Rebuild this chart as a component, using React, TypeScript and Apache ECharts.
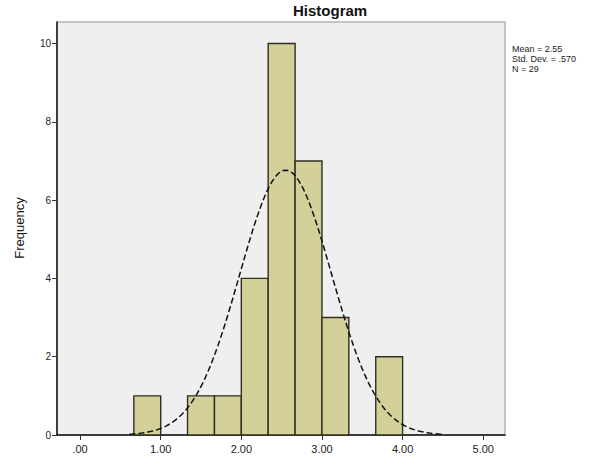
import React, { useEffect, useRef } from "react";
import * as echarts from "echarts";

const binStarts = [0.667, 1.333, 1.667, 2.0, 2.333, 2.667, 3.0, 3.667];
const binEnds = [1.0, 1.667, 2.0, 2.333, 2.667, 3.0, 3.333, 4.0];
const counts = [1, 1, 1, 4, 10, 7, 3, 2];
const xTicks = [0, 1, 2, 3, 4, 5];
const xTickLabels = [".00", "1.00", "2.00", "3.00", "4.00", "5.00"];
const yTicks = [0, 2, 4, 6, 8, 10];
const statMean = 2.55;
const statSd = 0.57;
const statN = 29;
const binWidth = 1 / 3;
const statLines = ["Mean = 2.55", "Std. Dev. = .570", "N = 29"];

export default function App() {
  const ref = useRef<HTMLDivElement>(null);
  useEffect(() => {
    if (!ref.current) return;
    const chart = echarts.init(ref.current, undefined, { renderer: "svg" });
    const histData = binStarts.map((s, i) => [s, binEnds[i], counts[i]]);
    const curve: number[][] = [];
    const lo = statMean - 3.4 * statSd;
    const hi = statMean + 3.4 * statSd;
    const steps = 120;
    for (let i = 0; i <= steps; i++) {
      const x = lo + ((hi - lo) * i) / steps;
      const z = (x - statMean) / statSd;
      const y = (statN * binWidth) / (statSd * Math.sqrt(2 * Math.PI)) * Math.exp(-0.5 * z * z);
      curve.push([x, y]);
    }
    chart.setOption({
      animation: false,
      backgroundColor: "#ffffff",
      grid: {
        left: 57,
        top: 22,
        right: 92,
        bottom: 31,
        show: true,
        backgroundColor: "#efefef",
        borderColor: "#b4b4b4",
        borderWidth: 1.5,
      },
      xAxis: {
        type: "value",
        min: -0.286,
        max: 5.27,
        splitLine: { show: false },
        axisLine: { show: true, onZero: false, lineStyle: { color: "#111", width: 1.5 } },
        axisTick: { show: true, length: 5, customValues: xTicks, lineStyle: { color: "#333" } },
        axisLabel: {
          customValues: xTicks,
          formatter: (v: number) => xTickLabels[xTicks.indexOf(Math.round(v))] ?? "",
          color: "#222",
          fontFamily: "Liberation Sans, Arial, sans-serif",
          fontSize: 11,
          margin: 8,
        },
      },
      yAxis: {
        type: "value",
        min: 0,
        max: 10.55,
        splitLine: { show: false },
        axisLine: { show: true, onZero: false, lineStyle: { color: "#111", width: 1.5 } },
        axisTick: { show: true, length: 5, customValues: yTicks, lineStyle: { color: "#333" } },
        axisLabel: {
          customValues: yTicks,
          color: "#222",
          fontFamily: "Liberation Sans, Arial, sans-serif",
          fontSize: 10,
          margin: 6,
        },
      },
      graphic: [
        {
          type: "text",
          left: 293,
          top: 3,
          style: {
            text: "Histogram",
            fill: "#111",
            font: "bold 15px 'Liberation Sans', Arial, sans-serif",
          },
        },
        {
          type: "text",
          x: 19,
          y: 228,
          rotation: Math.PI / 2,
          style: {
            text: "Frequency",
            fill: "#111",
            font: "13px 'Liberation Sans', Arial, sans-serif",
            textAlign: "center",
            textVerticalAlign: "middle",
          },
        },
        ...statLines.map((t, i) => ({
          type: "text",
          x: 512,
          y: 44 + i * 10,
          style: {
            text: t,
            fill: "#222",
            font: "9px 'Liberation Sans', Arial, sans-serif",
          },
        })),
      ],
      series: [
        {
          type: "custom",
          data: histData,
          encode: { x: [0, 1], y: 2 },
          renderItem: (params: any, api: any) => {
            const p0 = api.coord([api.value(0), api.value(2)]);
            const p1 = api.coord([api.value(1), 0]);
            return {
              type: "rect",
              shape: { x: p0[0], y: p0[1], width: p1[0] - p0[0], height: p1[1] - p0[1] },
              style: { fill: "#d3d09a", stroke: "#2f2f22", lineWidth: 1.4 },
            };
          },
          z: 2,
        },
        {
          type: "line",
          data: curve,
          showSymbol: false,
          symbol: "none",
          smooth: false,
          lineStyle: { color: "#111", width: 1.5, type: [6, 3] },
          z: 3,
        },
      ],
    });
    return () => chart.dispose();
  }, []);
  return <div ref={ref} style={{ width: 597, height: 466, position: "absolute", left: 0, top: 0 }} />;
}
